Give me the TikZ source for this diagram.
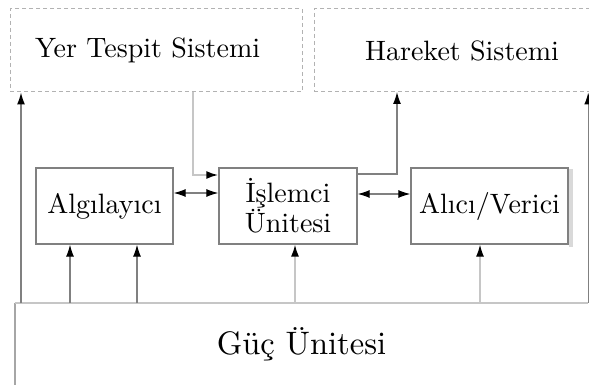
\documentclass[tikz,border=0pt]{standalone}
\usepackage{fontspec}
\setmainfont{lmroman10-regular.otf}
\usetikzlibrary{arrows.meta}
\newcommand{\labelfont}{\fontsize{28}{30}\selectfont}
\newcommand{\powerfont}{\fontsize{32.5}{36}\selectfont}
\tikzset{
  sysbox/.style={draw=gray!60,dash pattern=on 4pt off 3pt,line width=1pt,inner sep=0pt,minimum height=83pt,font=\labelfont},
  unitbox/.style={draw=gray,line width=1.3pt,inner sep=0pt,minimum height=76pt,font=\labelfont},
  wire/.style={draw=gray,line width=1.2pt},
  paleWire/.style={draw=gray!45,line width=2pt},
}

\begin{document}
\begin{tikzpicture}[x=1pt,y=-1pt,>={Latex[length=12pt,width=8pt,color=black]}]
  \useasboundingbox (0,0) rectangle (589,385);
  \fill[white] (0,0) rectangle (589,385);

  % outer systems
  \node[sysbox,minimum width=292pt,text width=242pt,align=left] (yer) at (156,50.5) {Yer Tespit Sistemi};
  \node[sysbox,minimum width=296pt] (har) at (462,50.5) {Hareket Sistemi};

  % inner units
  \node[unitbox,minimum width=137pt] (alg) at (104.5,206) {Algılayıcı};
  \node[unitbox,minimum width=138pt,align=center] (isl) at (288,206) {İşlemci\\Ünitesi};
  \node[unitbox,minimum width=157pt] (alc) at (489.5,206) {Alıcı/Verici};
  \fill[gray!30] ([xshift=0.6pt,yshift=-2pt]alc.north east) rectangle ([xshift=4pt,yshift=-2pt]alc.south east);

  % power unit
  \node[minimum width=573pt,minimum height=82pt,inner sep=0pt,font=\powerfont] (guc) at (301.5,344) {Güç Ünitesi};
  \draw[draw=gray!70,line width=1.8pt] (guc.south west) -- (guc.north west);
  \draw[paleWire] (guc.north west) -- (guc.north east);

  % supply taps
  \coordinate (p1) at (21,303);
  \coordinate (p2) at (70,303);
  \coordinate (p3) at (137,303);
  \coordinate (p4) at (295,303);
  \coordinate (p5) at (480,303);
  \draw[wire,->] (p1) -- (p1 |- yer.south);
  \draw[wire,->] (p2) -- (p2 |- alg.south);
  \draw[wire,->] (p3) -- (p3 |- alg.south);
  \draw[paleWire,line width=1.5pt,->] (p4) -- (p4 |- isl.south);
  \draw[paleWire,line width=1.3pt,->] (p5) -- (p5 |- alc.south);
  \draw[wire,->] (guc.north east) -- (guc.north east |- har.south);

  % signal lines
  \coordinate (ys) at (193,92);
  \coordinate (hs) at (397,92);
  \draw[paleWire,->] (ys) |- ([yshift=31pt]isl.west);
  \draw[wire,->] ([yshift=32pt]isl.east) -| (hs);
  \draw[wire,<->] ([yshift=13pt]alg.east) -- ([yshift=13pt]isl.west);
  \draw[wire,<->] ([yshift=12pt]isl.east) -- ([yshift=12pt]alc.west);
\end{tikzpicture}
\end{document}
